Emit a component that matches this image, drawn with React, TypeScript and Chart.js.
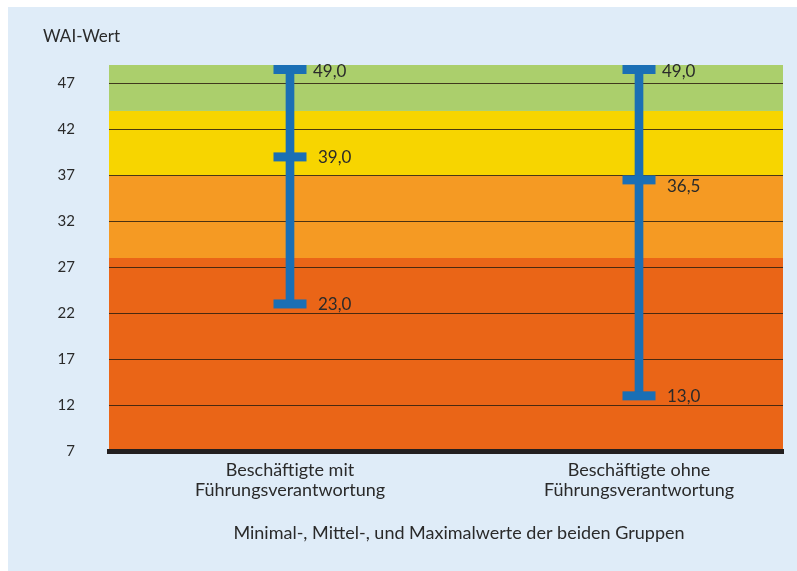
import React, { useEffect, useRef } from "react";
import { Chart, registerables } from "chart.js";
Chart.register(...registerables);

const groupLabels: string[][] = [
  ["Beschäftigte mit", "Führungsverantwortung"],
  ["Beschäftigte ohne", "Führungsverantwortung"],
];
const groupPositions = [1, 2];
const minValues = [23.0, 13.0];
const meanValues = [39.0, 36.5];
const maxValues = [49.0, 49.0];
const yTicks = [7, 12, 17, 22, 27, 32, 37, 42, 47];
const bandFrom = [7, 28, 37, 44];
const bandTo = [28, 37, 44, 49];
const bandColors = ["#ea6517", "#f59a23", "#f7d500", "#abcf6c"];
const yTitle = "WAI-Wert";
const xTitle = "Minimal-, Mittel-, und Maximalwerte der beiden Gruppen";

const PANEL = "#dfecf8";
const BLUE = "#1a6fb5";
const TEXT = "#2a2a2a";
const FONT = "Lato, 'Open Sans', sans-serif";

const fmt = (v: number) => v.toFixed(1).replace(".", ",");

const bandsPlugin = {
  id: "bands",
  beforeDraw(chart: any) {
    const { ctx, chartArea, scales } = chart;
    const y = scales.y;
    ctx.save();
    ctx.fillStyle = PANEL;
    ctx.fillRect(0, 0, chart.width, chart.height);
    bandFrom.forEach((f, i) => {
      const top = y.getPixelForValue(bandTo[i]);
      const bot = y.getPixelForValue(f);
      ctx.fillStyle = bandColors[i];
      ctx.fillRect(chartArea.left, top, chartArea.right - chartArea.left, bot - top);
    });
    ctx.restore();
  },
};

const capsPlugin = {
  id: "caps",
  afterDatasetsDraw(chart: any) {
    const { ctx, chartArea, scales } = chart;
    const xs = scales.x;
    const y = scales.y;
    const capW = 33;
    const capH = 9;
    ctx.save();
    groupPositions.forEach((g, i) => {
      const x = xs.getPixelForValue(g);
      const vals = [minValues[i], meanValues[i], maxValues[i]];
      vals.forEach((v, k) => {
        let cy = y.getPixelForValue(v);
        cy = Math.max(cy, chartArea.top + capH / 2);
        ctx.fillStyle = BLUE;
        ctx.fillRect(x - capW / 2, cy - capH / 2, capW, capH);
        ctx.fillStyle = TEXT;
        ctx.font = `17px ${FONT}`;
        ctx.textAlign = "left";
        ctx.textBaseline = "middle";
        const off = k === 2 ? 23 : 28;
        const dy = k === 2 ? 2 : k === 1 && i === 1 ? 7 : 1;
        ctx.fillText(fmt(v), x + off, cy + dy);
      });
    });
    ctx.restore();
  },
  afterDraw(chart: any) {
    const { ctx } = chart;
    ctx.save();
    ctx.fillStyle = TEXT;
    ctx.textBaseline = "middle";
    ctx.font = `17px ${FONT}`;
    ctx.textAlign = "left";
    ctx.fillText(yTitle, 35, 30);
    ctx.font = `18px ${FONT}`;
    ctx.textAlign = "center";
    ctx.fillText(xTitle, 451, 526);
    ctx.restore();
  },
};

export default function App() {
  const ref = useRef<HTMLCanvasElement>(null);
  useEffect(() => {
    if (!ref.current) return;
    const chart = new Chart(ref.current, {
      type: "bar",
      data: {
        datasets: [
          {
            data: groupPositions.map((g, i) => ({ x: g, y: [minValues[i], maxValues[i]] })) as any,
            backgroundColor: BLUE,
            barThickness: 8,
            borderWidth: 0,
          },
        ],
      },
      plugins: [bandsPlugin, capsPlugin],
      options: {
        animation: false,
        responsive: false,
        devicePixelRatio: 1,
        layout: { padding: { top: 58, right: 14, left: 0, bottom: 10 } },
        plugins: { legend: { display: false }, tooltip: { enabled: false } },
        scales: {
          x: {
            type: "linear",
            min: 0.4814,
            max: 2.4126,
            offset: false,
            grid: { display: true, offset: false, drawOnChartArea: false, drawTicks: false },
            border: { display: true, color: "#231f20", width: 5 },
            afterBuildTicks: (s: any) => {
              s.ticks = groupPositions.map((v) => ({ value: v }));
            },
            afterFit: (s: any) => {
              s.height = 110;
            },
            ticks: {
              callback: (_v: any, i: number) => groupLabels[i],
              font: { family: FONT, size: 18, lineHeight: 1.11 },
              color: TEXT,
              padding: 9,
              maxRotation: 0,
              autoSkip: false,
            },
          },
          y: {
            type: "linear",
            min: 7,
            max: 49,
            afterBuildTicks: (s: any) => {
              s.ticks = yTicks.map((v) => ({ value: v }));
            },
            afterFit: (s: any) => {
              s.width = 101;
            },
            grid: { color: "rgba(45,30,15,0.85)", lineWidth: 1, drawTicks: false },
            border: { display: false },
            ticks: {
              font: { family: FONT, size: 15 },
              color: TEXT,
              padding: 34,
            },
          },
        },
      } as any,
    });
    return () => chart.destroy();
  }, []);
  return (
    <div style={{ position: "fixed", left: 8, top: 7, width: 789, height: 564 }}>
      <canvas ref={ref} width={789} height={564} style={{ width: 789, height: 564, display: "block" }} />
    </div>
  );
}
